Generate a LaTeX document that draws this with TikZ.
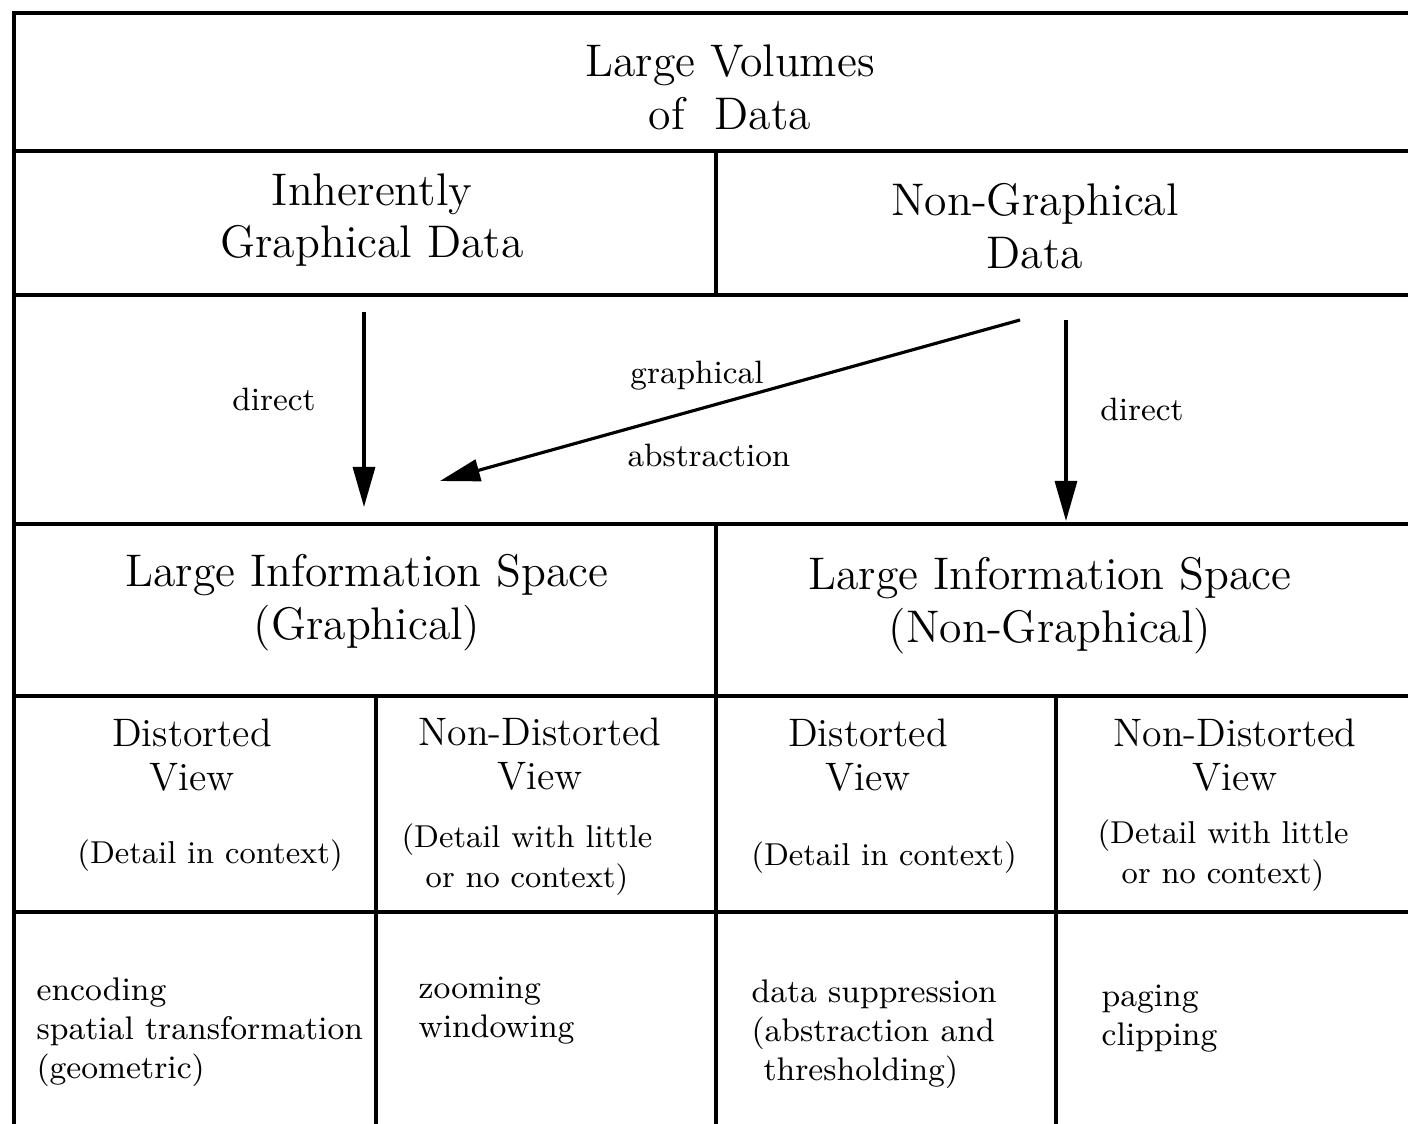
\documentclass[tikz,border=0pt]{standalone}
\usetikzlibrary{arrows.meta}

\begin{document}
\begin{tikzpicture}[x=0.01cm, y=-0.01cm, line width=0.9pt, >={Triangle[length=4mm, width=2.2mm]}]
		\tikzstyle{heading}=[align=center, inner sep=0pt, font=\fontsize{13}{15}\selectfont]
		\tikzstyle{viewname}=[align=center, inner sep=0pt, font=\fontsize{11.3}{12.5}\selectfont]
		\tikzstyle{viewnote}=[align=center, inner sep=0pt, font=\fontsize{9}{11.4}\selectfont]
		\tikzstyle{arrowlabel}=[inner sep=0pt, font=\fontsize{9.2}{11}\selectfont]
		\tikzstyle{technique}=[align=left, anchor=north west, inner sep=0pt, font=\fontsize{9.3}{11.1}\selectfont]
		
		\useasboundingbox (0,0) rectangle (1408,1124);
		
		% Tabellenrahmen und Linien
		\draw (1408,13) -- (14,13) -- (14,1124);
		\foreach \y in {151,295,524,696,912}
			\draw (14,\y) -- (1408,\y);
		\draw (716,151) -- (716,295);
		\draw (716,524) -- (716,1124);
		\draw (376,696) -- (376,1124);
		\draw (1056,696) -- (1056,1124);
		
		% Kopfzeilen
		\node[heading] (volumes) at (730,87) {Large Volumes\\of\ \ Data};
		\node[heading] (graphdata) at (372,220) {Inherently\\Graphical Data};
		\node[heading] (nongraphdata) at (1035,226) {Non-Graphical\\Data};
		
		% Pfeile
		\coordinate (lstart) at (364,312);
		\coordinate (lend) at (364,507);
		\coordinate (gstart) at (1020,320);
		\coordinate (gend) at (440,481);
		\coordinate (rstart) at (1066,320);
		\coordinate (rend) at (1066,521);
		\draw[->] (lstart) -- (lend);
		\draw[->] (gstart) -- (gend);
		\draw[->] (rstart) -- (rend);
		\node[arrowlabel] (ldirect) at (274,399) {direct};
		\node[arrowlabel] (graphical) at (697,376) {graphical};
		\node[arrowlabel] (abstraction) at (709,455) {abstraction};
		\node[arrowlabel] (rdirect) at (1142,409) {direct};
		
		% Informationsraeume
		\node[heading] (spacegraph) at (367,603) {Large Information Space\\(Graphical)};
		\node[heading] (spacenongraph) at (1050,606) {Large Information Space\\(Non-Graphical)};
		
		% Ansichten
		\node[viewname] (view1) at (192,755) {Distorted\\View};
		\node[viewnote] (note1) at (210,856) {(Detail in context)};
		\node[viewname] (view2) at (540,754) {Non-Distorted\\View};
		\node[viewnote] (note2) at (527,860) {(Detail with little\\or no context)};
		\node[viewname] (view3) at (868,755) {Distorted\\View};
		\node[viewnote] (note3) at (884,858) {(Detail in context)};
		\node[viewname] (view4) at (1235,755) {Non-Distorted\\View};
		\node[viewnote] (note4) at (1223,856) {(Detail with little\\or no context)};
		
		% Techniken
		\node[technique] (tech1) at (35,976) {encoding\\spatial transformation\\(geometric)};
		\node[technique] (tech2) at (417,975) {zooming\\windowing};
		\node[technique] (tech3) at (750,978) {data suppression\\(abstraction and\\\hspace*{1.2mm}thresholding)};
		\node[technique] (tech4) at (1100,983) {paging\\clipping};
		
	\end{tikzpicture}
\end{document}
